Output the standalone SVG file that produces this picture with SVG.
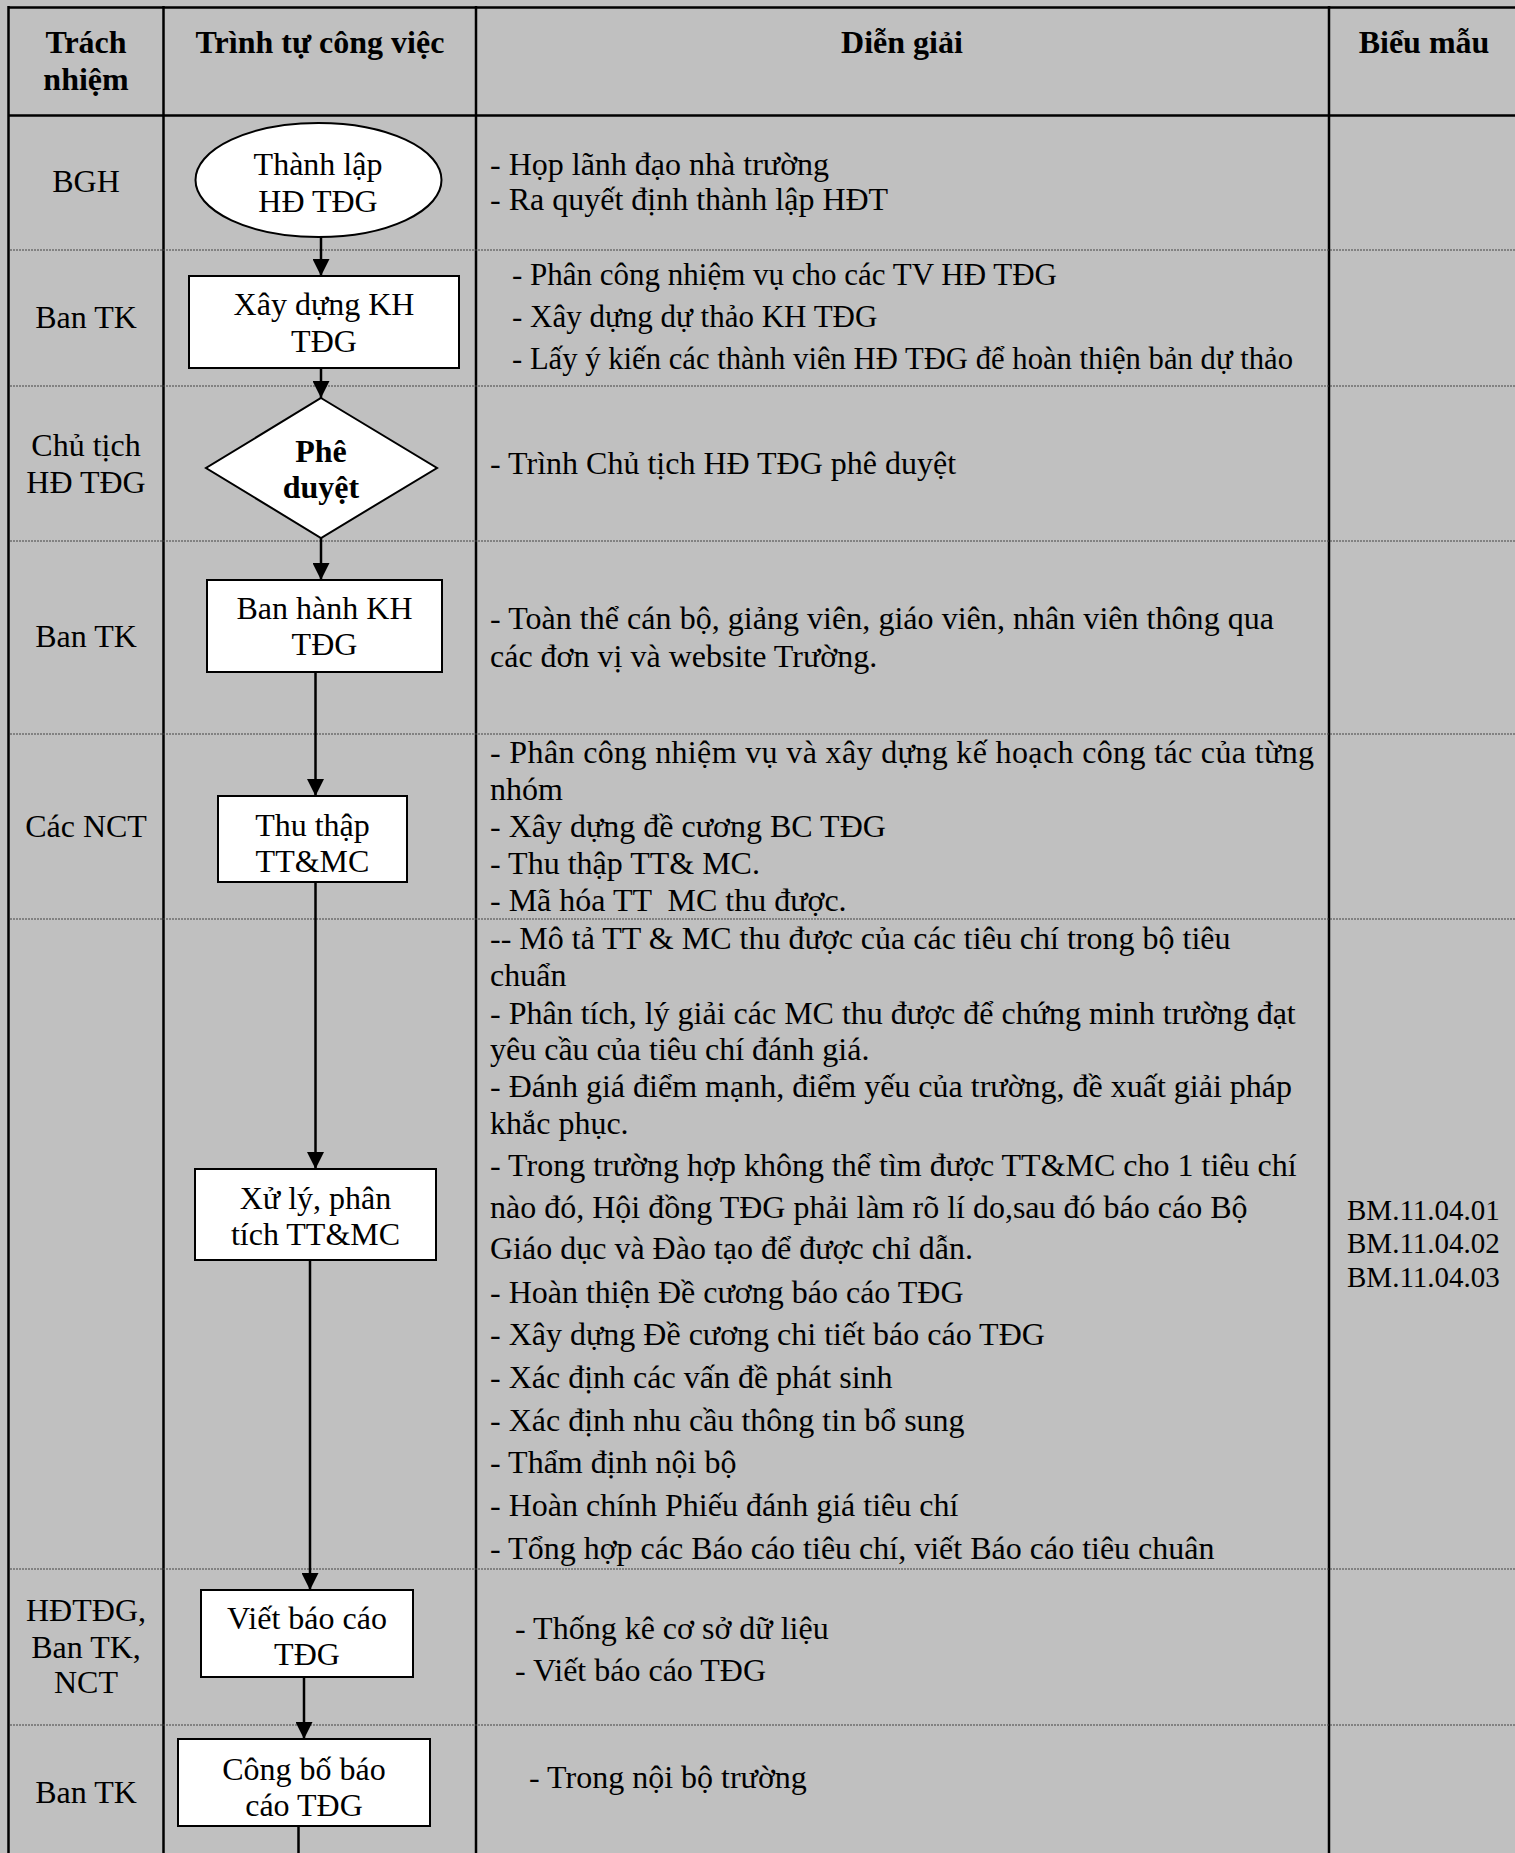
<svg xmlns="http://www.w3.org/2000/svg" width="1515" height="1853" viewBox="0 0 1515 1853">
<style>
text{font-family:"Liberation Serif","Times New Roman",serif;font-size:32px;fill:#000}
.b{font-weight:bold}
.c{text-anchor:middle}
.s{font-size:31px}
.bm{font-size:29px}
.grid{stroke:#000;stroke-width:2.5;fill:none}
.dot{stroke:#444;stroke-width:1.2;stroke-dasharray:2 1;fill:none}
.node{fill:#fff;stroke:#000;stroke-width:2}
.conn{stroke:#000;stroke-width:2.5;fill:none}
</style>
<defs>
<marker id="ad" markerUnits="userSpaceOnUse" markerWidth="17" markerHeight="17" refX="17" refY="8.5" orient="auto" viewBox="0 0 17 17">
<path d="M0,0 L17,8.5 L0,17 Z" fill="#000"/>
</marker>
</defs>
<rect x="0" y="0" width="1515" height="1853" fill="#c0c0c0"/>
<g id="table">
<line class="grid" x1="8" y1="7.5" x2="1515" y2="7.5"/>
<line class="grid" x1="8" y1="115.5" x2="1515" y2="115.5"/>
<line class="grid" x1="8.5" y1="6" x2="8.5" y2="1853"/>
<line class="grid" x1="163.5" y1="6" x2="163.5" y2="1853"/>
<line class="grid" x1="476" y1="6" x2="476" y2="1853"/>
<line class="grid" x1="1329" y1="6" x2="1329" y2="1853"/>
<line class="dot" x1="10" y1="250" x2="1515" y2="250"/>
<line class="dot" x1="10" y1="386" x2="1515" y2="386"/>
<line class="dot" x1="10" y1="541" x2="1515" y2="541"/>
<line class="dot" x1="10" y1="734" x2="1515" y2="734"/>
<line class="dot" x1="10" y1="919" x2="1515" y2="919"/>
<line class="dot" x1="10" y1="1569" x2="1515" y2="1569"/>
<line class="dot" x1="10" y1="1725" x2="1515" y2="1725"/>
</g>
<g id="headers">
<text class="b c" x="86" y="53">Trách</text>
<text class="b c" x="86" y="90">nhiệm</text>
<text class="b c" x="320" y="53">Trình tự công việc</text>
<text class="b c" x="902" y="53">Diễn giải</text>
<text class="b c" x="1424" y="53">Biểu mẫu</text>
</g>
<g id="roles">
<text class="c" x="86" y="192">BGH</text>
<text class="c" x="86" y="328">Ban TK</text>
<text class="c" x="86" y="456">Chủ tịch</text>
<text class="c" x="86" y="493">HĐ TĐG</text>
<text class="c" x="86" y="647">Ban TK</text>
<text class="c" x="86" y="837">Các NCT</text>
<text class="c" x="86" y="1621">HĐTĐG,</text>
<text class="c" x="86" y="1658">Ban TK,</text>
<text class="c" x="86" y="1693">NCT</text>
<text class="c" x="86" y="1803">Ban TK</text>
</g>
<g id="connectors">
<line class="conn" x1="321" y1="237" x2="321" y2="276" marker-end="url(#ad)"/>
<line class="conn" x1="321" y1="368" x2="321" y2="398" marker-end="url(#ad)"/>
<line class="conn" x1="321" y1="538" x2="321" y2="580" marker-end="url(#ad)"/>
<line class="conn" x1="315.5" y1="672" x2="315.5" y2="796" marker-end="url(#ad)"/>
<line class="conn" x1="315.5" y1="882" x2="315.5" y2="1169" marker-end="url(#ad)"/>
<line class="conn" x1="310" y1="1260" x2="310" y2="1590" marker-end="url(#ad)"/>
<line class="conn" x1="304" y1="1677" x2="304" y2="1739" marker-end="url(#ad)"/>
<line class="conn" x1="298.5" y1="1826" x2="298.5" y2="1853"/>
</g>
<g id="n1">
<ellipse class="node" cx="318.5" cy="180" rx="123" ry="57"/>
<text class="c" x="318" y="175">Thành lập</text>
<text class="c" x="318" y="212">HĐ TĐG</text>
</g>
<g id="n2">
<rect class="node" x="189" y="276" width="270" height="92"/>
<text class="c" x="324" y="315">Xây dựng KH</text>
<text class="c" x="324" y="352">TĐG</text>
</g>
<g id="n3">
<polygon class="node" points="321,398 437,468 321,538 206,468"/>
<text class="b c" x="321" y="462">Phê</text>
<text class="b c" x="321" y="498">duyệt</text>
</g>
<g id="n4">
<rect class="node" x="207" y="580" width="235" height="92"/>
<text class="c" x="324.5" y="619">Ban hành KH</text>
<text class="c" x="324.5" y="655">TĐG</text>
</g>
<g id="n5">
<rect class="node" x="218" y="796" width="189" height="86"/>
<text class="c" x="312.5" y="836">Thu thập</text>
<text class="c" x="312.5" y="872">TT&amp;MC</text>
</g>
<g id="n6">
<rect class="node" x="195" y="1169" width="241" height="91"/>
<text class="c" x="315.5" y="1209">Xử lý, phân</text>
<text class="c" x="315.5" y="1245">tích TT&amp;MC</text>
</g>
<g id="n7">
<rect class="node" x="201" y="1590" width="212" height="87"/>
<text class="c" x="307" y="1629">Viết báo cáo</text>
<text class="c" x="307" y="1665">TĐG</text>
</g>
<g id="n8">
<rect class="node" x="178" y="1739" width="252" height="87"/>
<text class="c" x="304" y="1780">Công bố báo</text>
<text class="c" x="304" y="1816">cáo TĐG</text>
</g>
<g id="descriptions">
<text x="490" y="175">- Họp lãnh đạo nhà trường</text>
<text x="490" y="210">- Ra quyết định thành lập HĐT</text>
<text class="s" x="512" y="285">- Phân công nhiệm vụ cho các TV HĐ TĐG</text>
<text class="s" x="512" y="327">- Xây dựng dự thảo KH TĐG</text>
<text class="s" x="512" y="369" textLength="781" lengthAdjust="spacingAndGlyphs">- Lấy ý kiến các thành viên HĐ TĐG để hoàn thiện bản dự thảo</text>
<text x="490" y="474">- Trình Chủ tịch HĐ TĐG phê duyệt</text>
<text x="490" y="629" textLength="784" lengthAdjust="spacing">- Toàn thể cán bộ, giảng viên, giáo viên, nhân viên thông qua</text>
<text x="490" y="667">các đơn vị và website Trường.</text>
<text x="490" y="763" textLength="824" lengthAdjust="spacing">- Phân công nhiệm vụ và xây dựng kế hoạch công tác của từng</text>
<text x="490" y="800">nhóm</text>
<text x="490" y="837">- Xây dựng đề cương BC TĐG</text>
<text x="490" y="874">- Thu thập TT&amp; MC.</text>
<text x="490" y="911" xml:space="preserve">- Mã hóa TT  MC thu được.</text>
<text x="490" y="949">-- Mô tả TT &amp; MC thu được của các tiêu chí trong bộ tiêu</text>
<text x="490" y="986">chuẩn</text>
<text x="490" y="1024">- Phân tích, lý giải các MC thu được để chứng minh trường đạt</text>
<text x="490" y="1060">yêu cầu của tiêu chí đánh giá.</text>
<text x="490" y="1097">- Đánh giá điểm mạnh, điểm yếu của trường, đề xuất giải pháp</text>
<text x="490" y="1134">khắc phục.</text>
<text x="490" y="1176">- Trong trường hợp không thể tìm được TT&amp;MC cho 1 tiêu chí</text>
<text x="490" y="1218">nào đó, Hội đồng TĐG phải làm rõ lí do,sau đó báo cáo Bộ</text>
<text x="490" y="1259">Giáo dục và Đào tạo để được chỉ dẫn.</text>
<text x="490" y="1303">- Hoàn thiện Đề cương báo cáo TĐG</text>
<text x="490" y="1345">- Xây dựng Đề cương chi tiết báo cáo TĐG</text>
<text x="490" y="1388">- Xác định các vấn đề phát sinh</text>
<text x="490" y="1431">- Xác định nhu cầu thông tin bổ sung</text>
<text x="490" y="1473">- Thẩm định nội bộ</text>
<text x="490" y="1516">- Hoàn chính Phiếu đánh giá tiêu chí</text>
<text x="490" y="1559">- Tổng hợp các Báo cáo tiêu chí, viết Báo cáo tiêu chuân</text>
<text x="515" y="1639">- Thống kê cơ sở dữ liệu</text>
<text x="515" y="1681">- Viết báo cáo TĐG</text>
<text x="529" y="1788">- Trong nội bộ trường</text>
</g>
<g id="forms">
<text class="bm" x="1347" y="1220">BM.11.04.01</text>
<text class="bm" x="1347" y="1253">BM.11.04.02</text>
<text class="bm" x="1347" y="1287">BM.11.04.03</text>
</g>
</svg>
